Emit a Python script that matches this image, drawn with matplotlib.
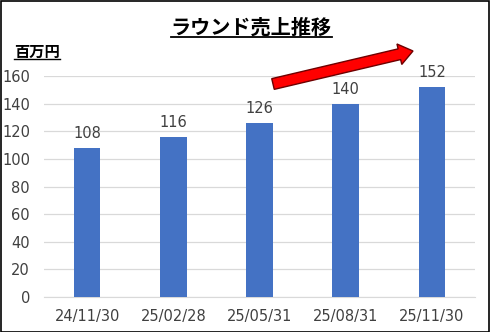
import matplotlib
matplotlib.use("Agg")
import matplotlib.pyplot as plt
from matplotlib.lines import Line2D
from matplotlib.patches import FancyArrow, Rectangle
from matplotlib.transforms import IdentityTransform

plt.rcParams['font.family'] = ['Noto Sans CJK JP', 'DejaVu Sans']
NUM_FONT = ['DejaVu Sans']

dates = ["24/11/30", "25/02/28", "25/05/31", "25/08/31", "25/11/30"]
sales = [108, 116, 126, 140, 152]
yticks = [0, 20, 40, 60, 80, 100, 120, 140, 160]
title = "ラウンド売上推移"
unit = "百万円"

W, H = 490, 332
fig = plt.figure(figsize=(W / 100, H / 100), dpi=100)
ax = fig.add_axes([44 / W, 1 - 297 / H, 431 / W, 221 / H])

x = list(range(len(dates)))
ax.bar(x, sales, width=0.31, color="#4472C4", zorder=3)
for xi, v in zip(x, sales):
    ax.text(xi, v + 5, str(v), ha="center", va="bottom", fontsize=10.5,
            color="#404040", family=NUM_FONT)

ax.set_ylim(0, 160)
ax.set_xlim(-0.5, len(dates) - 0.5)
ax.set_yticks(yticks)
ax.set_xticks(x)
ax.set_xticklabels(dates)
ax.tick_params(axis="both", length=0, labelsize=10.5, labelcolor="#404040")
ax.tick_params(axis="x", pad=9)
ax.tick_params(axis="y", pad=10)
for lbl in ax.get_xticklabels() + ax.get_yticklabels():
    lbl.set_family(NUM_FONT)
ax.grid(axis="y", color="#D9D9D9", linewidth=0.9, zorder=0)
for s in ax.spines.values():
    s.set_visible(False)
ax.spines["bottom"].set_visible(True)
ax.spines["bottom"].set_color("#D9D9D9")

# outer frame
fig.patches.append(Rectangle((0.5 / W, 0.5 / H), 1 - 1.5 / W, 1 - 1.5 / H,
                             transform=fig.transFigure, fill=False,
                             edgecolor="black", linewidth=1.2))

t1 = fig.text(251 / W, 1 - 27 / H, title, ha="center", va="center",
              fontsize=14.5, fontweight="bold", color="black")
t2 = fig.text(14 / W, 1 - 52 / H, unit, ha="left", va="center",
              fontsize=11, fontweight="bold", color="black")

# underline the title and unit label
fig.canvas.draw()
r = fig.canvas.get_renderer()
for t, lw in ((t1, 1.3), (t2, 1.0)):
    bb = t.get_window_extent(r)
    yb = bb.y0 + 1
    fig.add_artist(Line2D([bb.x0 / W, bb.x1 / W], [yb / H, yb / H],
                          transform=fig.transFigure, color="black", linewidth=lw))

# trend arrow, drawn in pixel units
x0, y0 = 273, H - 84
x1, y1 = 413, H - 51
fig.patches.append(FancyArrow(x0, y0, x1 - x0, y1 - y0,
                              width=11, head_width=21, head_length=14,
                              length_includes_head=True, transform=IdentityTransform(),
                              facecolor="#FF0000", edgecolor="#6E0000", linewidth=1.0,
                              zorder=5))

fig.savefig("out.png", dpi=100)
